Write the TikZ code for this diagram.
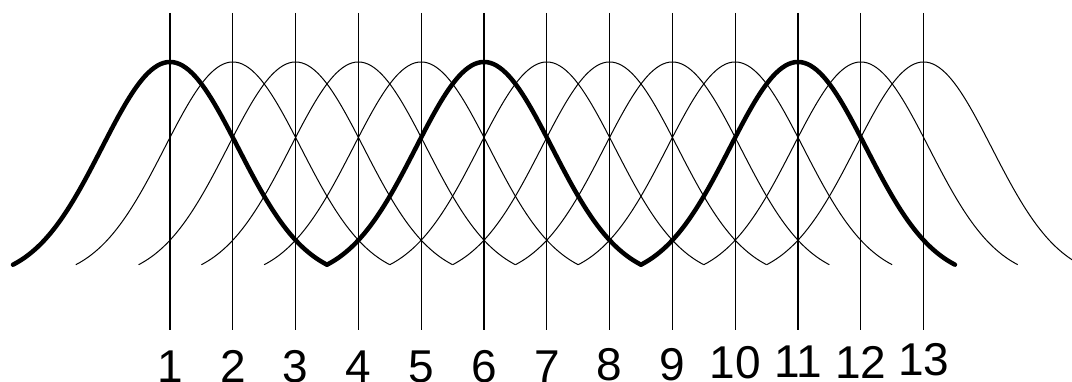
\documentclass[tikz,border=0pt]{standalone}
\usepackage{fontspec}
\setmainfont{Liberation Sans}
\begin{document}
\begin{tikzpicture}[x=1pt,y=-1pt,
  gridline/.style={line width=1.2pt,black},
  thincurve/.style={line width=1pt,black},
  thickcurve/.style={line width=4.5pt,black,line cap=round,line join=round},
  numlabel/.style={anchor=north,inner sep=0pt,font=\fontsize{46}{46}\selectfont}]
\useasboundingbox (0,0) rectangle (1072,382);
\begin{scope}
\clip (0,0) rectangle (1072,382);
% vertical lines
\foreach \i in {1,...,13}{
  \pgfmathsetmacro{\cx}{170+62.8*(\i-1)}
  \coordinate (t\i) at (\cx,13);
  \coordinate (b\i) at (\cx,330);
  \draw[gridline] (t\i) -- (b\i);
}
% thin curves
\foreach \i in {1,...,13}{
  \pgfmathsetmacro{\cx}{170+62.8*(\i-1)}
  \draw[thincurve] plot[domain=-2.5:2.5,samples=101,smooth] ({\cx+62.8*\x},{280-218*exp(-0.425*\x*\x)});
}
% thick curves
\foreach \i in {1,6,11}{
  \pgfmathsetmacro{\cx}{170+62.8*(\i-1)}
  \draw[thickcurve] plot[domain=-2.5:2.5,samples=101,smooth] ({\cx+62.8*\x},{280-218*exp(-0.425*\x*\x)});
}
\end{scope}
% labels
\foreach \i/\ty in {1/350.5,2/350.5,3/350.5,4/350.5,5/350.5,6/350.5,7/350.5,8/348.5,9/348.5,10/346,11/346,12/346.5,13/343.5}{
  \pgfmathsetmacro{\cx}{170+62.8*(\i-1)}
  \node[numlabel] (n\i) at (\cx,\ty) {\i};
}
\end{tikzpicture}
\end{document}
